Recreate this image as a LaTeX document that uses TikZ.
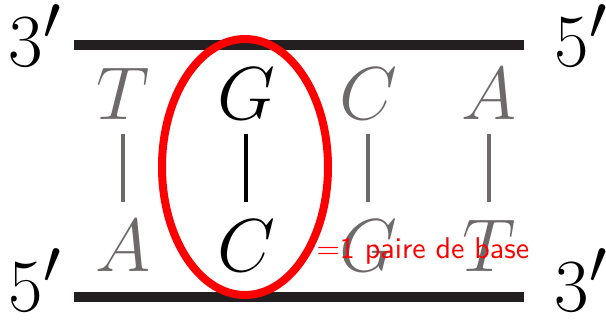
\documentclass[tikz,border=0pt]{standalone}
\usetikzlibrary{shapes.geometric}
\definecolor{lettergray}{RGB}{110,106,106}
\definecolor{strandblack}{RGB}{35,31,32}
\begin{document}
\begin{tikzpicture}[x=1pt,y=-1pt,
  big/.style={font=\Huge, scale=3.0145, inner sep=0pt},
  endlabel/.style={big, anchor=base west, text=black},
  basegray/.style={big, anchor=base, text=lettergray},
  baseblack/.style={big, anchor=base, text=black},
  strand/.style={draw=strandblack, line width=10pt},
  bondgray/.style={draw=lettergray, line width=4pt, shorten <=13pt, shorten >=17pt},
  bondblack/.style={draw=black, line width=4pt, shorten <=13pt, shorten >=17pt},
  ring/.style={draw=red, line width=8pt, ellipse, inner sep=0pt, minimum width=166pt, minimum height=256pt},
  note/.style={anchor=base west, text=red, inner sep=0pt, font=\sffamily\normalsize, scale=3}]
\useasboundingbox (0,0) rectangle (606,321);
% strands
\coordinate (s1a) at (74,45.5);
\coordinate (s1b) at (524,45.5);
\coordinate (s2a) at (74,297);
\coordinate (s2b) at (524,297);
\draw[strand] (s1a) -- (s1b);
\draw[strand] (s2a) -- (s2b);
% end labels
\node[endlabel] (tl) at (8,67) {$3'$};
\node[endlabel] (tr) at (554,67) {$5'$};
\node[endlabel] (bl) at (8,311) {$5'$};
\node[endlabel] (br) at (554,311) {$3'$};
% top bases
\node[basegray]  (t1) at (123,120) {$T$};
\node[baseblack] (t2) at (246,120) {$G$};
\node[basegray]  (t3) at (368,120) {$C$};
\node[basegray]  (t4) at (489,120) {$A$};
% bottom bases
\node[basegray]  (b1) at (123,271) {$A$};
\node[baseblack] (b2) at (246,271) {$C$};
\node[basegray]  (b3) at (368,271) {$G$};
\node[basegray]  (b4) at (489,271) {$T$};
% bonds
\draw[bondgray]  (t1.south) -- (t1.south |- b1.north);
\draw[bondblack] (t2.south) -- (t2.south |- b2.north);
\draw[bondgray]  (t3.south) -- (t3.south |- b3.north);
\draw[bondgray]  (t4.south) -- (t4.south |- b4.north);
% highlight
\node[ring] (pair) at (245,167) {};
\node[note] (lbl) at (316,258) {=1 paire de base};
\end{tikzpicture}
\end{document}
